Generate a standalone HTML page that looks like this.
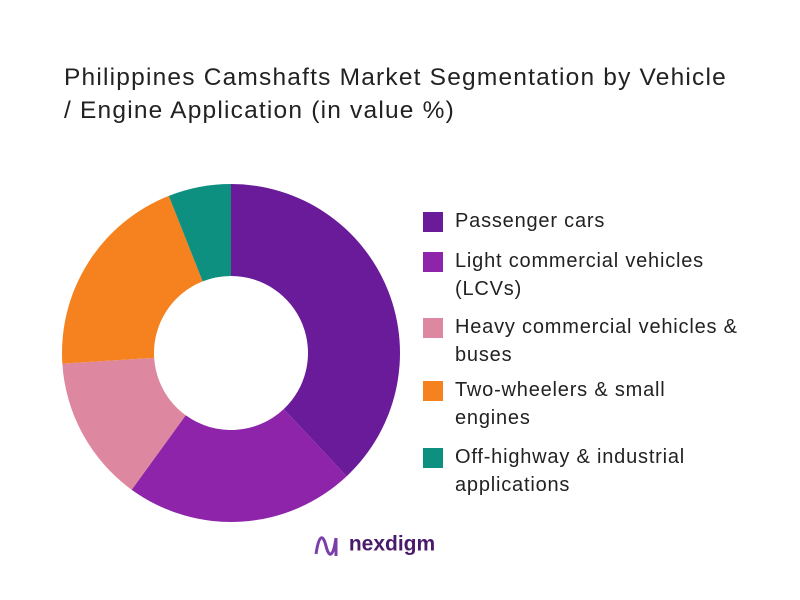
<!DOCTYPE html>
<html><head><meta charset="utf-8"><style>
body{margin:0;width:800px;height:600px;background:#fff;font-family:"Liberation Sans",sans-serif;position:relative;overflow:hidden}
#title{position:absolute;left:64px;top:61px;font-size:24.5px;line-height:33px;color:#222;letter-spacing:1.2px}
.leg{position:absolute;left:423px;font-size:20px;line-height:28px;color:#222;letter-spacing:0.8px}
.sw{position:absolute;left:0;top:5px;width:20px;height:20px}
.lt{position:absolute;left:32px;top:0;white-space:nowrap}
#logo{position:absolute;left:313px;top:530px;font-size:21px;font-weight:bold;color:#4a1a6b}
</style></head><body>
<div id="title">Philippines Camshafts Market Segmentation by Vehicle<br>/ Engine Application (in value %)</div>
<svg id="chart" width="800" height="600" style="position:absolute;left:0;top:0"></svg>
<div id="legend"></div>
<div id="logo"><svg width="30" height="30" style="vertical-align:middle"><path d="M3 24 C6 4,10 4,13 16 C16 28,20 28,23 8 M23 8 L23 26" stroke="#7b3fa8" stroke-width="3" fill="none"/></svg> nexdigm</div>
<script>
const categories=["Passenger cars","Light commercial vehicles (LCVs)","Heavy commercial vehicles & buses","Two-wheelers & small engines","Off-highway & industrial applications"];
const legendLines=[["Passenger cars"],["Light commercial vehicles","(LCVs)"],["Heavy commercial vehicles &","buses"],["Two-wheelers & small","engines"],["Off-highway & industrial","applications"]];
const values=[38,22,14,20,6];
const colors=["#6a1b9a","#8e24aa","#de87a0","#f5821f","#0e9080"];
const cx=231,cy=353,R=169,r=77;
const svg=document.getElementById('chart');
const total=values.reduce((a,b)=>a+b,0);
let a0=0;
function pt(a,rad){return [cx+rad*Math.sin(a),cy-rad*Math.cos(a)];}
values.forEach((v,i)=>{
 const a1=a0+v/total*2*Math.PI;
 const [x0,y0]=pt(a0,R),[x1,y1]=pt(a1,R),[x2,y2]=pt(a1,r),[x3,y3]=pt(a0,r);
 const lg=(a1-a0)>Math.PI?1:0;
 const p=document.createElementNS('http://www.w3.org/2000/svg','path');
 p.setAttribute('d',`M${x0},${y0}A${R},${R} 0 ${lg} 1 ${x1},${y1}L${x2},${y2}A${r},${r} 0 ${lg} 0 ${x3},${y3}Z`);
 p.setAttribute('fill',colors[i]);
 
 
 svg.appendChild(p);
 a0=a1;
});
const lg=document.getElementById('legend');
const tops=[207,247,313,376,443];
legendLines.forEach((ls,i)=>{
 const d=document.createElement('div');
 d.className='leg';d.style.top=tops[i]+'px';
 
 
 d.innerHTML=`<div class="sw" style="background:${colors[i]}"></div><div class="lt">${ls.join('<br>').replace(/&(?!amp)/g,'&amp;')}</div>`;
 lg.appendChild(d);
});
</script>
</body></html>
